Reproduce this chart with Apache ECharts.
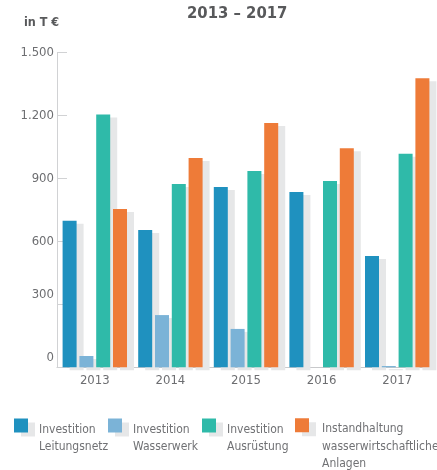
<!DOCTYPE html>
<html>
<head>
<meta charset="utf-8">
<script src="https://cdn.jsdelivr.net/npm/echarts@6/dist/echarts.min.js"></script>
<style>
  html, body { margin: 0; padding: 0; background: #fff; }
  #main { width: 437px; height: 470px; }
</style>
</head>
<body>
<div id="main"></div>
<script>
// values in T€
const years = ['2013', '2014', '2015', '2016', '2017'];
const leitungsnetz = [699, 655, 860, 836, 531];
const wasserwerk = [54, 249, 183, 0, 6];
const ausruestung = [1205, 874, 936, 888, 1018];
const instandhaltung = [755, 998, 1165, 1045, 1378];

const names = [
  'Investition\nLeitungsnetz',
  'Investition\nWasserwerk',
  'Investition\nAusrüstung',
  'Instandhaltung\nwasserwirtschaftliche\nAnlagen'
];
const colors = ['#1f91bf', '#7bb3d7', '#2fbaa9', '#ee7b38'];

const font = '"DejaVu Sans Condensed", "Liberation Sans Narrow", sans-serif';
const shadow = '#e6e7e8';
const lh = 17.5;

function fmt(v) {
  return String(v).replace(/\B(?=(\d{3})+(?!\d))/g, '.');
}

function bar(i, data) {
  return {
    name: names[i],
    type: 'bar',
    data: data,
    barWidth: 14,
    barGap: '20%',
    itemStyle: {
      color: colors[i],
      shadowColor: shadow,
      shadowBlur: 0,
      shadowOffsetX: 7,
      shadowOffsetY: 3
    }
  };
}

// text block starts with an empty spacer line so the first text line sits
// next to the icon, like in the original
function legend(i, left, top, padLeft) {
  let lines = names[i].split('\n');
  let spacer = 8 + (lines.length - 1) * lh;
  return {
    left: left,
    top: top,
    padding: 0,
    itemWidth: 14,
    itemHeight: 14,
    icon: 'rect',
    selectedMode: false,
    itemStyle: {
      shadowColor: shadow,
      shadowBlur: 0,
      shadowOffsetX: 7,
      shadowOffsetY: 4
    },
    formatter: () => '{s| }\n' + lines.map(l => '{t|' + l + '}').join('\n'),
    textStyle: {
      rich: {
        s: { fontSize: 4, lineHeight: spacer },
        t: { fontFamily: font, fontSize: 12, color: '#707174', lineHeight: lh, padding: [0, 0, 0, padLeft] }
      }
    },
    data: [names[i]]
  };
}

let chart = echarts.init(document.getElementById('main'));
chart.setOption({
  animation: false,
  title: [
    {
      text: '2013 – 2017',
      left: 187,
      top: 5,
      padding: 0,
      textStyle: { fontFamily: font, fontSize: 16.5, fontWeight: 'bold', color: '#58595b' }
    },
    {
      text: 'in T €',
      left: 24,
      top: 16,
      padding: 0,
      textStyle: { fontFamily: font, fontSize: 12.5, fontWeight: 'bold', color: '#58595b' }
    }
  ],
  legend: [
    legend(0, 14, 406, 6),
    legend(1, 108, 406, 6),
    legend(2, 202, 406, 6),
    legend(3, 295, 397, 8)
  ],
  grid: { left: 57, right: 2, top: 52.7, bottom: 102.7 },
  xAxis: {
    type: 'category',
    data: years,
    axisLine: { lineStyle: { color: '#c8c9cb', width: 1 } },
    axisTick: { show: false },
    axisLabel: { fontFamily: font, fontSize: 13, color: '#6d6e71', margin: 7 }
  },
  yAxis: {
    type: 'value',
    min: 0,
    max: 1500,
    interval: 300,
    axisLine: { show: true, lineStyle: { color: '#d1d2d4' } },
    axisTick: { show: true, inside: true, length: 10, lineStyle: { color: '#d1d2d4' } },
    splitLine: { show: false },
    axisLabel: {
      margin: 3,
      fontFamily: font,
      fontSize: 13,
      color: '#6d6e71',
      formatter: v => (v <= 300 ? '{u|' + fmt(v) + '}' : fmt(v)),
      rich: {
        u: { fontFamily: font, fontSize: 13, color: '#6d6e71', padding: [0, 0, 20, 0] }
      }
    }
  },
  series: [
    bar(0, leitungsnetz),
    bar(1, wasserwerk),
    bar(2, ausruestung),
    bar(3, instandhaltung)
  ]
});
</script>
</body>
</html>
